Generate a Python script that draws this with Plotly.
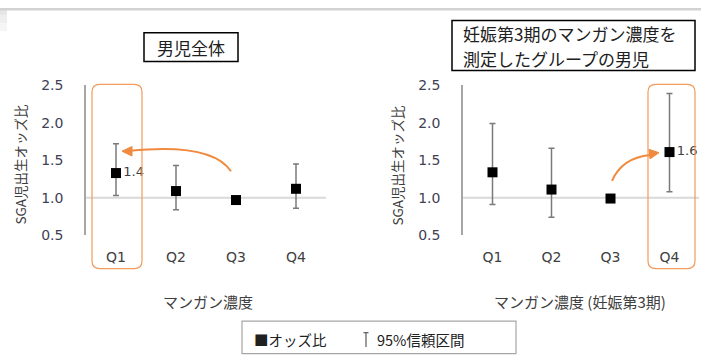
import plotly.graph_objects as go

W, H = 701, 355

categories = ["Q1", "Q2", "Q3", "Q4"]
cat_pos = [1, 2, 3, 4]

# Left panel: all boys
or_all = [1.33, 1.09, 0.97, 1.12]
ci_low_all = [1.03, 0.84, None, 0.86]
ci_high_all = [1.72, 1.43, None, 1.45]
labels_all = ["1.4", "", "", ""]

# Right panel: boys with 3rd-trimester Mn measurement
or_t3 = [1.34, 1.11, 0.99, 1.61]
ci_low_t3 = [0.91, 0.74, None, 1.08]
ci_high_t3 = [1.99, 1.66, None, 2.39]
labels_t3 = ["", "", "", "1.6"]

y_ticks = [0.5, 1.0, 1.5, 2.0, 2.5]


def px(x):
    return x / W


def py(y):
    return 1 - y / H


def err(vals, lo, hi):
    plus = [None if h is None else h - v for v, h in zip(vals, hi)]
    minus = [None if l is None else v - l for v, l in zip(vals, lo)]
    return plus, minus


TXT = "#404040"
CJK = "Noto Sans CJK JP"
NUM = "DejaVu Sans"
ORANGE = "#F39A5C"

fig = go.Figure()

for vals, lo, hi, labs, xa, ya in [
    (or_all, ci_low_all, ci_high_all, labels_all, "x", "y"),
    (or_t3, ci_low_t3, ci_high_t3, labels_t3, "x2", "y2"),
]:
    plus, minus = err(vals, lo, hi)
    fig.add_trace(go.Scatter(
        x=cat_pos, y=vals, xaxis=xa, yaxis=ya,
        mode="markers+text", text=labs, textposition="middle right",
        textfont=dict(family=NUM, size=13, color=TXT),
        marker=dict(symbol="square", size=10, color="black"),
        error_y=dict(type="data", array=plus, arrayminus=minus, symmetric=False,
                     color="#7a7a7a", thickness=1.5, width=3),
        showlegend=False, cliponaxis=False,
    ))

axis_common_x = dict(range=[0.5, 4.5], tickvals=cat_pos, ticktext=categories,
                     showline=False, showgrid=False, zeroline=False, ticks="",
                     tickfont=dict(family=NUM, size=14, color=TXT), ticklabelstandoff=12,
                     fixedrange=True)
axis_common_y = dict(range=[0.5, 2.5], tickvals=y_ticks, tickformat=".1f",
                     showline=True, linecolor="#a6a6a6", linewidth=1.5,
                     showgrid=False, zeroline=False, ticks="",
                     tickfont=dict(family=NUM, size=14, color="#3f3f55"), ticklabelstandoff=18,
                     domain=[py(238), py(81)], fixedrange=True)

fig.update_layout(
    width=W, height=H, autosize=False,
    margin=dict(l=0, r=0, t=0, b=0),
    paper_bgcolor="white", plot_bgcolor="white",
    xaxis=dict(domain=[px(86), px(326)], anchor="y", **axis_common_x),
    yaxis=dict(anchor="x", **axis_common_y),
    xaxis2=dict(domain=[px(463), px(699)], anchor="y2", **axis_common_x),
    yaxis2=dict(anchor="x2", **axis_common_y),
)

shapes = []
# top gray strip
shapes.append(dict(type="rect", xref="paper", yref="paper", x0=0, x1=1, y0=py(2.5), y1=1,
                   fillcolor="#d2d2d2", line=dict(width=0), layer="above"))
for i, c in enumerate(["#e6e6e6", "#eeeeee", "#f5f5f5"]):
    shapes.append(dict(type="rect", xref="paper", yref="paper", x0=0, x1=px(7), y0=py(8 + i * 8), y1=py(i * 8),
                       fillcolor=c, line=dict(width=0), layer="below"))

# reference line at 1.0
for xr, yr in [("x domain", "y"), ("x2 domain", "y2")]:
    shapes.append(dict(type="line", xref=xr, yref=yr, x0=0, x1=1, y0=1.0, y1=1.0,
                       line=dict(color="#d9d9d9", width=2), layer="below"))


def rrect(x0, y0, x1, y1, r):
    pts = [("M", x0 + r, y0), ("L", x1 - r, y0), ("Q", x1, y0, x1, y0 + r),
           ("L", x1, y1 - r), ("Q", x1, y1, x1 - r, y1), ("L", x0 + r, y1),
           ("Q", x0, y1, x0, y1 - r), ("L", x0, y0 + r), ("Q", x0, y0, x0 + r, y0)]
    s = ""
    for p in pts:
        cmd = p[0]
        coords = p[1:]
        parts = []
        for i in range(0, len(coords), 2):
            parts.append(f"{px(coords[i]):.5f},{py(coords[i+1]):.5f}")
        s += cmd + " " + " ".join(parts) + " "
    return s + "Z"


shapes.append(dict(type="path", xref="paper", yref="paper", path=rrect(92, 80, 142, 273, 8),
                   line=dict(color=ORANGE, width=1.2), layer="above"))
shapes.append(dict(type="path", xref="paper", yref="paper", path=rrect(648, 80, 695, 273, 8),
                   line=dict(color=ORANGE, width=1.2), layer="above"))


def qcurve(x0, y0, cx, cy, x1, y1):
    return (f"M {px(x0):.5f},{py(y0):.5f} Q {px(cx):.5f},{py(cy):.5f} "
            f"{px(x1):.5f},{py(y1):.5f}")


def tri(a, b, c):
    return (f"M {px(a[0]):.5f},{py(a[1]):.5f} L {px(b[0]):.5f},{py(b[1]):.5f} "
            f"L {px(c[0]):.5f},{py(c[1]):.5f} Z")


# arrows
shapes.append(dict(type="path", xref="paper", yref="paper", path=qcurve(231, 171, 212, 141, 130, 149.5),
                   line=dict(color="#F08A3E", width=2), layer="above"))
shapes.append(dict(type="path", xref="paper", yref="paper", path=tri((122, 150), (132, 145), (132, 155)),
                   fillcolor="#F08A3E", line=dict(color="#F08A3E", width=1), layer="above"))
shapes.append(dict(type="path", xref="paper", yref="paper", path=qcurve(612, 181, 622, 157, 650, 154),
                   line=dict(color="#F08A3E", width=2), layer="above"))
shapes.append(dict(type="path", xref="paper", yref="paper", path=tri((659, 151.5), (649, 148), (650, 158)),
                   fillcolor="#F08A3E", line=dict(color="#F08A3E", width=1), layer="above"))

# title boxes
shapes.append(dict(type="rect", xref="paper", yref="paper", x0=px(144), x1=px(238), y0=py(56), y1=py(26),
                   line=dict(color="black", width=1.5), fillcolor="white", layer="above"))
shapes.append(dict(type="rect", xref="paper", yref="paper", x0=px(452), x1=px(695), y0=py(65.5), y1=py(13),
                   line=dict(color="black", width=1.5), fillcolor="white", layer="above"))

# legend box and error-bar glyph
shapes.append(dict(type="rect", xref="paper", yref="paper", x0=px(242), x1=px(516), y0=py(362), y1=py(328),
                   line=dict(color="#a6a6a6", width=1.2), fillcolor="white", layer="above"))
shapes.append(dict(type="line", xref="paper", yref="paper", x0=px(366), x1=px(366), y0=py(355), y1=py(340),
                   line=dict(color="#595959", width=1.2), layer="above"))
shapes.append(dict(type="line", xref="paper", yref="paper", x0=px(363.5), x1=px(368.5), y0=py(340), y1=py(340),
                   line=dict(color="#595959", width=1.2), layer="above"))

fig.update_layout(shapes=shapes)

ann = []
ann.append(dict(text="男児全体", x=px(191), y=py(41), xref="paper", yref="paper", showarrow=False,
                font=dict(family=CJK, size=17, color="#202020"), xanchor="center", yanchor="middle"))
ann.append(dict(text="妊娠第3期のマンガン濃度を", x=px(461), y=py(27),
                xref="paper", yref="paper", showarrow=False, align="left",
                font=dict(family=CJK, size=17, color="#202020"), xanchor="left", yanchor="middle"))
ann.append(dict(text="測定したグループの男児", x=px(461), y=py(52.5),
                xref="paper", yref="paper", showarrow=False, align="left",
                font=dict(family=CJK, size=17, color="#202020"), xanchor="left", yanchor="middle"))
for x in (20, 397):
    ann.append(dict(text="SGA児出生オッズ比", x=px(x), y=py(164), xref="paper", yref="paper",
                    showarrow=False, textangle=-90, font=dict(family=CJK, size=13.5, color=TXT),
                    xanchor="center", yanchor="middle"))
ann.append(dict(text="マンガン濃度", x=px(208), y=py(307), xref="paper", yref="paper", showarrow=False,
                font=dict(family=CJK, size=15, color=TXT), xanchor="center", yanchor="middle"))
ann.append(dict(text="マンガン濃度 (妊娠第3期)", x=px(580), y=py(307), xref="paper", yref="paper",
                showarrow=False, font=dict(family=CJK, size=15, color=TXT), xanchor="center", yanchor="middle"))
ann.append(dict(text="■オッズ比", x=px(252), y=py(347), xref="paper", yref="paper", showarrow=False,
                font=dict(family=CJK, size=14.5, color="#202020"), xanchor="left", yanchor="middle"))
ann.append(dict(text="95%信頼区間", x=px(375), y=py(347), xref="paper", yref="paper", showarrow=False,
                font=dict(family=CJK, size=14.5, color="#202020"), xanchor="left", yanchor="middle"))
fig.update_layout(annotations=ann)

fig.write_html("out.html")
